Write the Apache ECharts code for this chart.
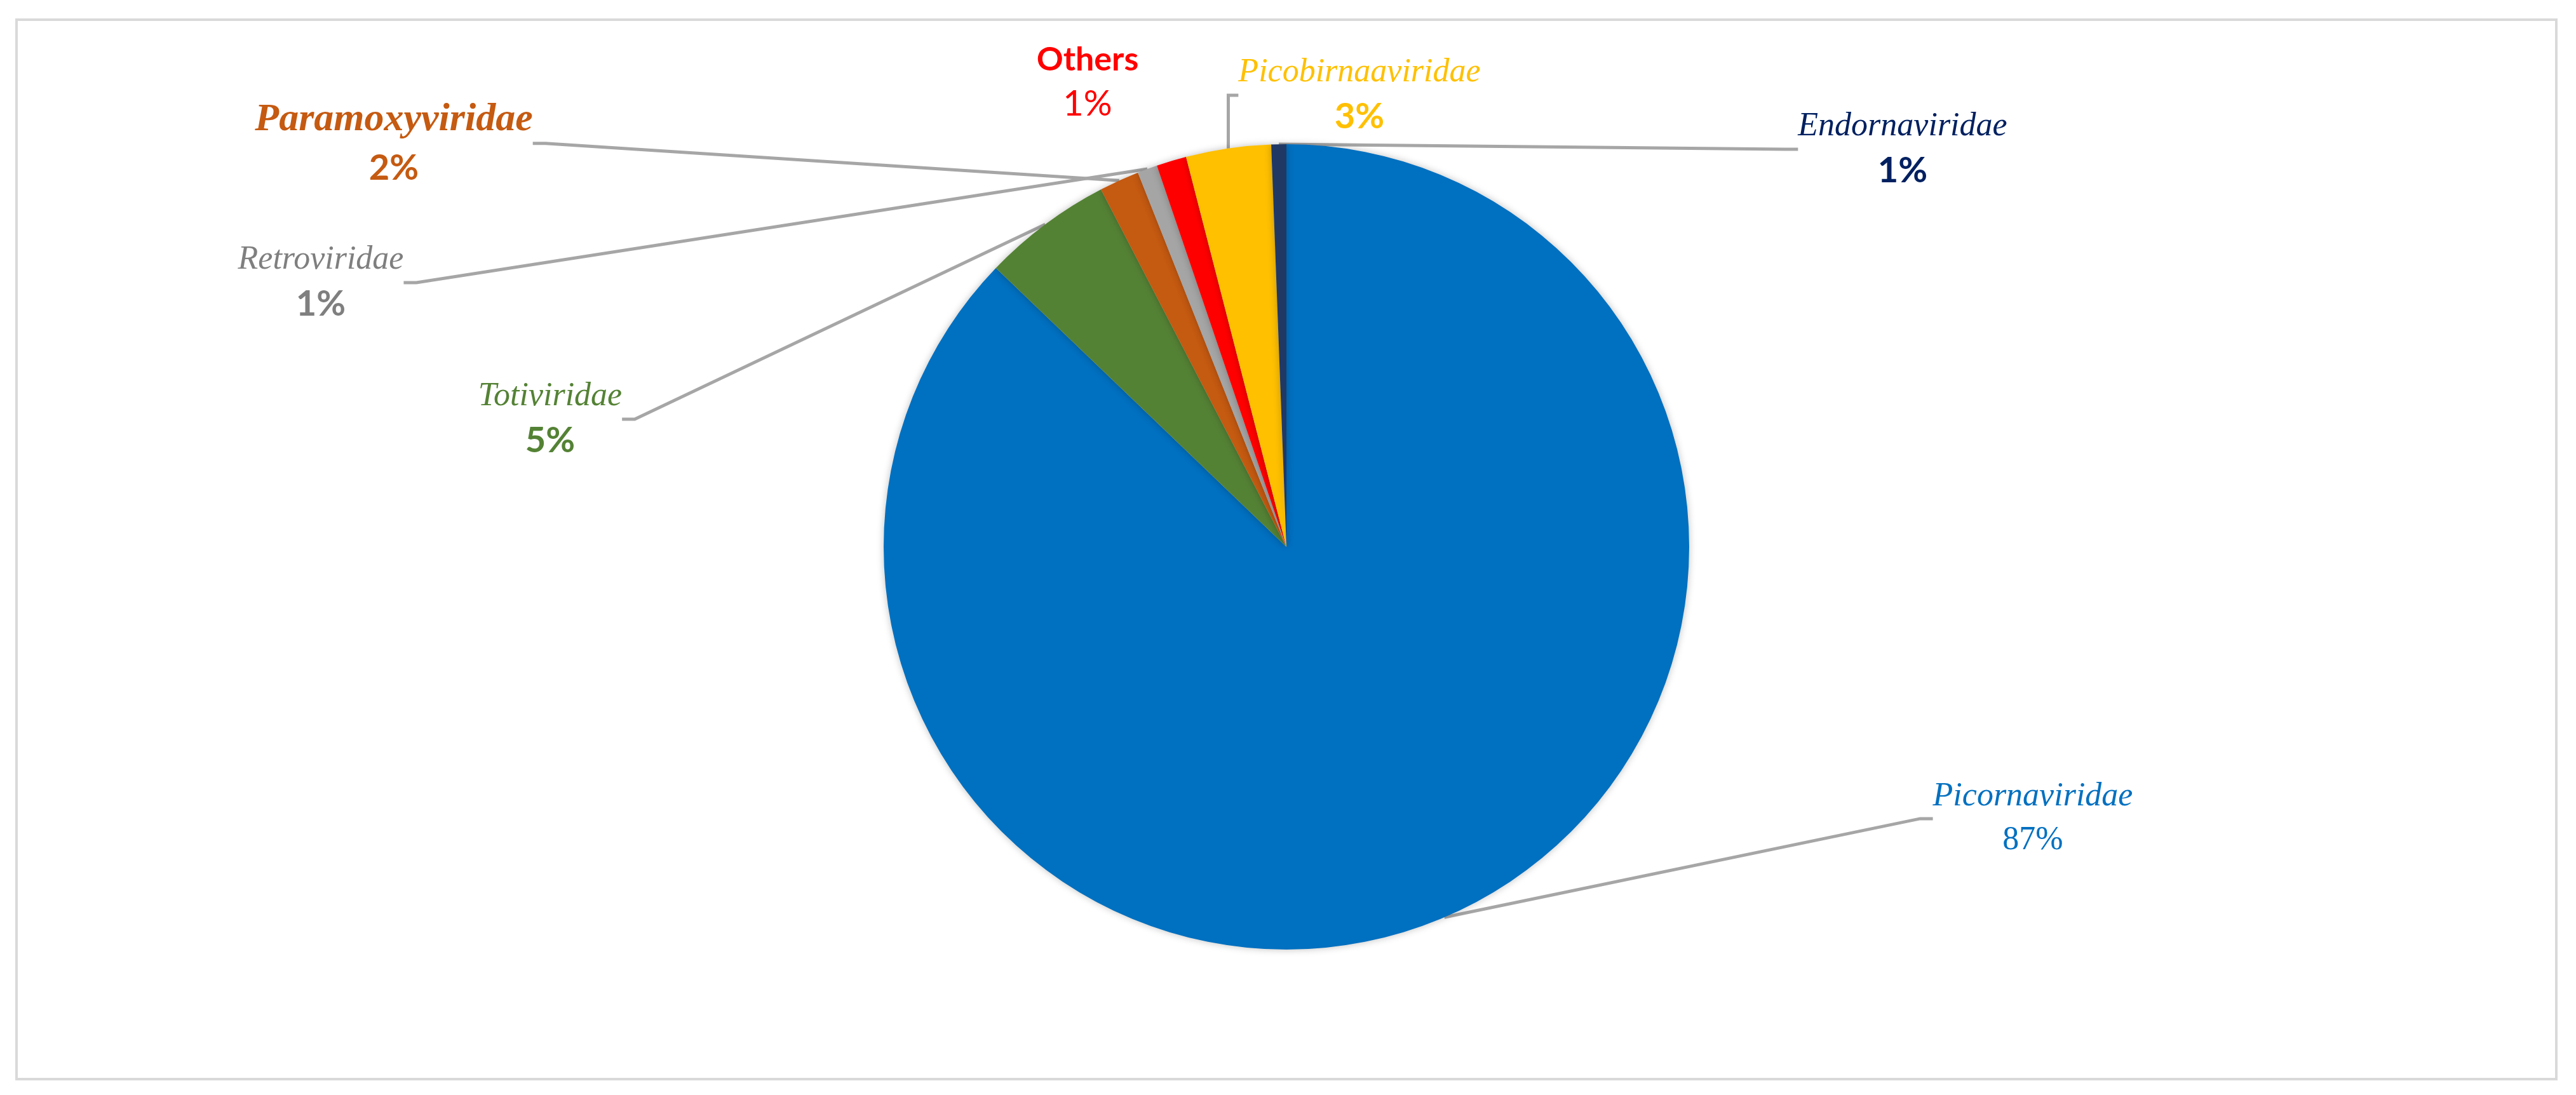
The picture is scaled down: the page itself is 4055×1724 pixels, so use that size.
<!DOCTYPE html>
<html><head><meta charset="utf-8">
<script src="https://cdn.jsdelivr.net/npm/echarts@6/dist/echarts.min.js"></script>
<style>html,body{margin:0;padding:0;background:#fff}#c{width:4055px;height:1724px}</style>
</head><body><div id="c"></div>
<script>
const families = ["Picornaviridae","Totiviridae","Paramoxyviridae","Retroviridae","Others","Picobirnaaviridae","Endornaviridae"];
const values = [87.0, 5.2, 1.6, 0.8, 1.2, 3.4, 0.6];
const sliceColors = ["#0070C0","#548235","#C55A11","#A5A5A5","#FF0000","#FFC000","#203864"];
const labelColors = ["#0070C0","#548235","#C55A11","#7F7F7F","#FF0000","#FFC000","#002060"];
const labelPos = [[3200,1290],[866,660],[620,225],[505,445],[1712,130],[2140,150],[2995,235]];
const nameSize = [52,52,62,52,52,52,52];
const italic = [true,true,true,true,false,true,true];
const boldName = [false,false,true,false,true,false,false];
const boldPct = [false,true,true,true,false,true,true];

const chart = echarts.init(document.getElementById('c'));
chart.setOption({
  animation:false,
  graphic:[{type:'rect',shape:{x:26,y:31,width:3998,height:1668},style:{fill:'none',stroke:'#D9D9D9',lineWidth:4}}],
  series:[{
    type:'pie',
    center:[2025,861],
    radius:[0,634],
    startAngle:90,
    clockwise:true,
    avoidLabelOverlap:false,
    itemStyle:{shadowBlur:12,shadowColor:'rgba(0,0,0,0.25)',borderWidth:0},
    labelLine:{show:true,length:20,length2:20,lineStyle:{color:'#A6A6A6',width:5}},
    data:families.map((n,i)=>({
      name:n,value:values[i],
      itemStyle:{color:sliceColors[i]},
      labelLine:{show:i!==4},
      label:{
        formatter:p=>'{n|'+p.name+'}\n{p|'+Math.round(p.percent)+'%}',
        rich:{
          n:{fontFamily:italic[i]?'Liberation Serif':'Lato',fontStyle:italic[i]?'italic':'normal',fontWeight:boldName[i]?'bold':'normal',fontSize:nameSize[i],color:labelColors[i],lineHeight:nameSize[i]*1.3,align:'center'},
          p:{fontFamily:i===0?'Liberation Serif':'Lato',fontWeight:boldPct[i]?'bold':'normal',fontSize:i===0?52:56,color:labelColors[i],lineHeight:72,align:'center'}
        }
      }
    })),
    label:{show:true,position:'outside',align:'center'}
  }]
});
chart.setOption({series:[{labelLayout:function(p){
  const q=labelPos[p.dataIndex];
  return {x:q[0],y:q[1],align:'center',verticalAlign:'middle'};
}}]});
</script></body></html>
